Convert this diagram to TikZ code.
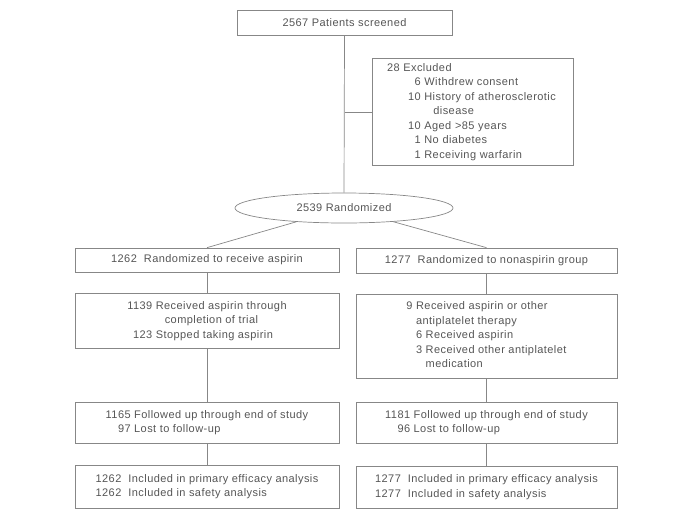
\documentclass[tikz,border=0pt]{standalone}
\usepackage{fontspec}
\setmainfont{Liberation Sans}[LetterSpace=4]
\usetikzlibrary{shapes.geometric}

\definecolor{inkgray}{RGB}{85,85,85}
\definecolor{linegray}{RGB}{135,135,135}

\begin{document}
\begin{tikzpicture}[x=1pt, y=-1pt,
  every node/.style={text=inkgray, font=\fontsize{11}{14.5}\selectfont},
  flowbox/.style={draw=linegray, line width=0.7pt, rectangle, inner sep=0pt},
  leftbox/.style={flowbox, minimum width=264pt},
  rightbox/.style={flowbox, minimum width=261pt},
  link/.style={draw=linegray, line width=0.7pt}]

  \useasboundingbox (0,0) rectangle (679,517);

  \node[flowbox, minimum width=215pt, minimum height=25pt] (screened) at (344.5,22.5) {2567 Patients screened};

  \node[flowbox, minimum width=201pt, minimum height=107pt, text width=171pt, inner xsep=15pt, align=left] (excluded) at (472.5,112) {%
    \begin{tabular}{@{\hspace{21pt}}r@{\ }l@{}}
      \multicolumn{2}{@{}l@{}}{28 Excluded}\\
      6 & Withdrew consent\\
      10 & History of atherosclerotic\\
       & \hspace{9pt}disease\\
      10 & Aged >85 years\\
      1 & No diabetes\\
      1 & Receiving warfarin
    \end{tabular}};

  \node[draw=linegray, line width=0.7pt, ellipse, minimum width=218pt, minimum height=30pt, inner sep=0pt] (randomized) at (344,208) {2539 Randomized};

  % aspirin arm
  \node[leftbox, minimum height=24pt] (aspirin) at (207,260) {1262\ \ Randomized to receive aspirin};
  \node[leftbox, minimum height=55pt] (aspirinrx) at (207,321) {%
    \begin{tabular}{@{}r@{\ }l@{}}
      1139 & Received aspirin through\\
       & \hspace{9pt}completion of trial\\
      123 & Stopped taking aspirin
    \end{tabular}};
  \node[leftbox, minimum height=41pt] (aspirinfu) at (207,422.5) {%
    \begin{tabular}{@{}r@{\ }l@{}}
      1165 & Followed up through end of study\\
      97 & Lost to follow-up
    \end{tabular}};
  \node[leftbox, minimum height=43pt] (aspirinan) at (207,486.5) {%
    \begin{tabular}{@{}l@{\ \ }l@{}}
      1262 & Included in primary efficacy analysis\\
      1262 & Included in safety analysis
    \end{tabular}};

  % nonaspirin arm
  \node[rightbox, minimum height=25pt] (nonaspirin) at (486.5,260.5) {1277\ \ Randomized to nonaspirin group};
  \node[rightbox, minimum height=84pt] (nonaspirinrx) at (486.5,336) {%
    \begin{tabular}{@{}r@{\ }l@{}}
      9 & Received aspirin or other\\
       & antiplatelet therapy\\
       & 6\ Received aspirin\\
       & 3\ Received other antiplatelet\\
       & \phantom{3\ }medication
    \end{tabular}};
  \node[rightbox, minimum height=41pt] (nonaspirinfu) at (486.5,422.5) {%
    \begin{tabular}{@{}r@{\ }l@{}}
      1181 & Followed up through end of study\\
      96 & Lost to follow-up
    \end{tabular}};
  \node[rightbox, minimum height=42pt] (nonaspirinan) at (486.5,487) {%
    \begin{tabular}{@{}l@{\ \ }l@{}}
      1277 & Included in primary efficacy analysis\\
      1277 & Included in safety analysis
    \end{tabular}};

  \coordinate (branch) at (screened.south |- excluded.west);
  \draw[link] (screened.south) -- (randomized.north);
  \draw[link] (branch) -- (excluded.west);

  \draw[link] (randomized) -- (aspirin.north);
  \draw[link] (randomized) -- (nonaspirin.north);

  \draw[link] (aspirin) -- (aspirinrx);
  \draw[link] (aspirinrx) -- (aspirinfu);
  \draw[link] (aspirinfu) -- (aspirinan);

  \draw[link] (nonaspirin) -- (nonaspirinrx);
  \draw[link] (nonaspirinrx) -- (nonaspirinfu);
  \draw[link] (nonaspirinfu) -- (nonaspirinan);

\end{tikzpicture}
\end{document}
